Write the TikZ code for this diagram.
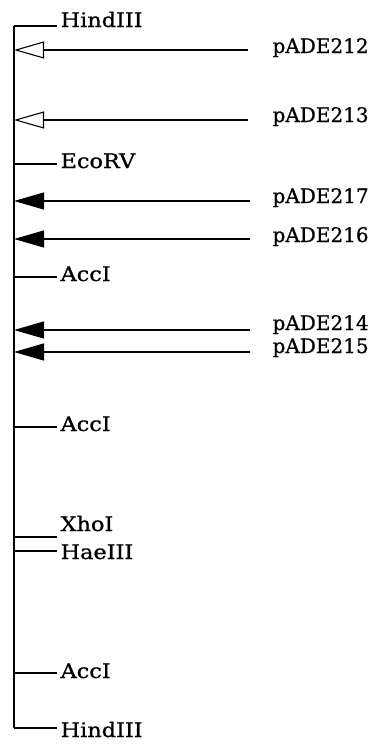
\documentclass[tikz,border=0pt]{standalone}
\usepackage{fontspec}
\usepackage{graphicx}
\setmainfont{DejaVu Serif}
\newfontfamily\labelfont[FakeBold=0.8]{DejaVu Serif}
\usetikzlibrary{arrows.meta}
\newcommand{\widelabel}[1]{\scalebox{1.12}[1]{#1}}
\begin{document}
\begin{tikzpicture}[x=1pt,y=1pt,line width=1.2pt,
  site/.style={anchor=base west,inner sep=0pt,font=\labelfont\fontsize{20}{20}\selectfont},
  plabel/.style={anchor=base west,inner sep=0pt,font=\labelfont\fontsize{20}{20}\selectfont},
  openarr/.style={-{Triangle[open,length=30pt,width=17pt,line width=1.1pt]}},
  fullarr/.style={-{Triangle[length=30pt,width=17pt]}}]
\useasboundingbox (0,0) rectangle (388,-747);
% backbone
\coordinate (top) at (14,-26);
\coordinate (bot) at (14,-728);
\draw (top) -- (bot);
% restriction sites: tick height / label baseline
\foreach \n/\y/\ty/\t in {h1/26/27/HindIII, eco/164/168/EcoRV, acc1/277/281/AccI,
  acc2/427/431/AccI, xho/537/531/XhoI, hae/551/559/HaeIII, acc3/673/678/AccI,
  h2/728/737/HindIII}{
  \coordinate (s\n) at (14,-\y);
  \coordinate (e\n) at (57,-\y);
  \node[site] (t\n) at (60,-\ty) {\widelabel{\t}};
  \draw (s\n) -- (e\n);
}
% deletion clones, open heads
\foreach \n/\y/\ty in {212/50/53, 213/120/122}{
  \coordinate (a\n) at (14,-\y);
  \coordinate (b\n) at (248,-\y);
  \node[plabel] (p\n) at (272,-\ty) {pADE\n};
  \draw[openarr] (b\n) -- (a\n);
}
% deletion clones, filled heads
\foreach \n/\y/\ty in {217/201/203, 216/239/242, 214/330/330, 215/352/353}{
  \coordinate (a\n) at (14,-\y);
  \coordinate (b\n) at (250,-\y);
  \node[plabel] (p\n) at (272,-\ty) {pADE\n};
  \draw[fullarr] (b\n) -- (a\n);
}
\end{tikzpicture}
\end{document}
